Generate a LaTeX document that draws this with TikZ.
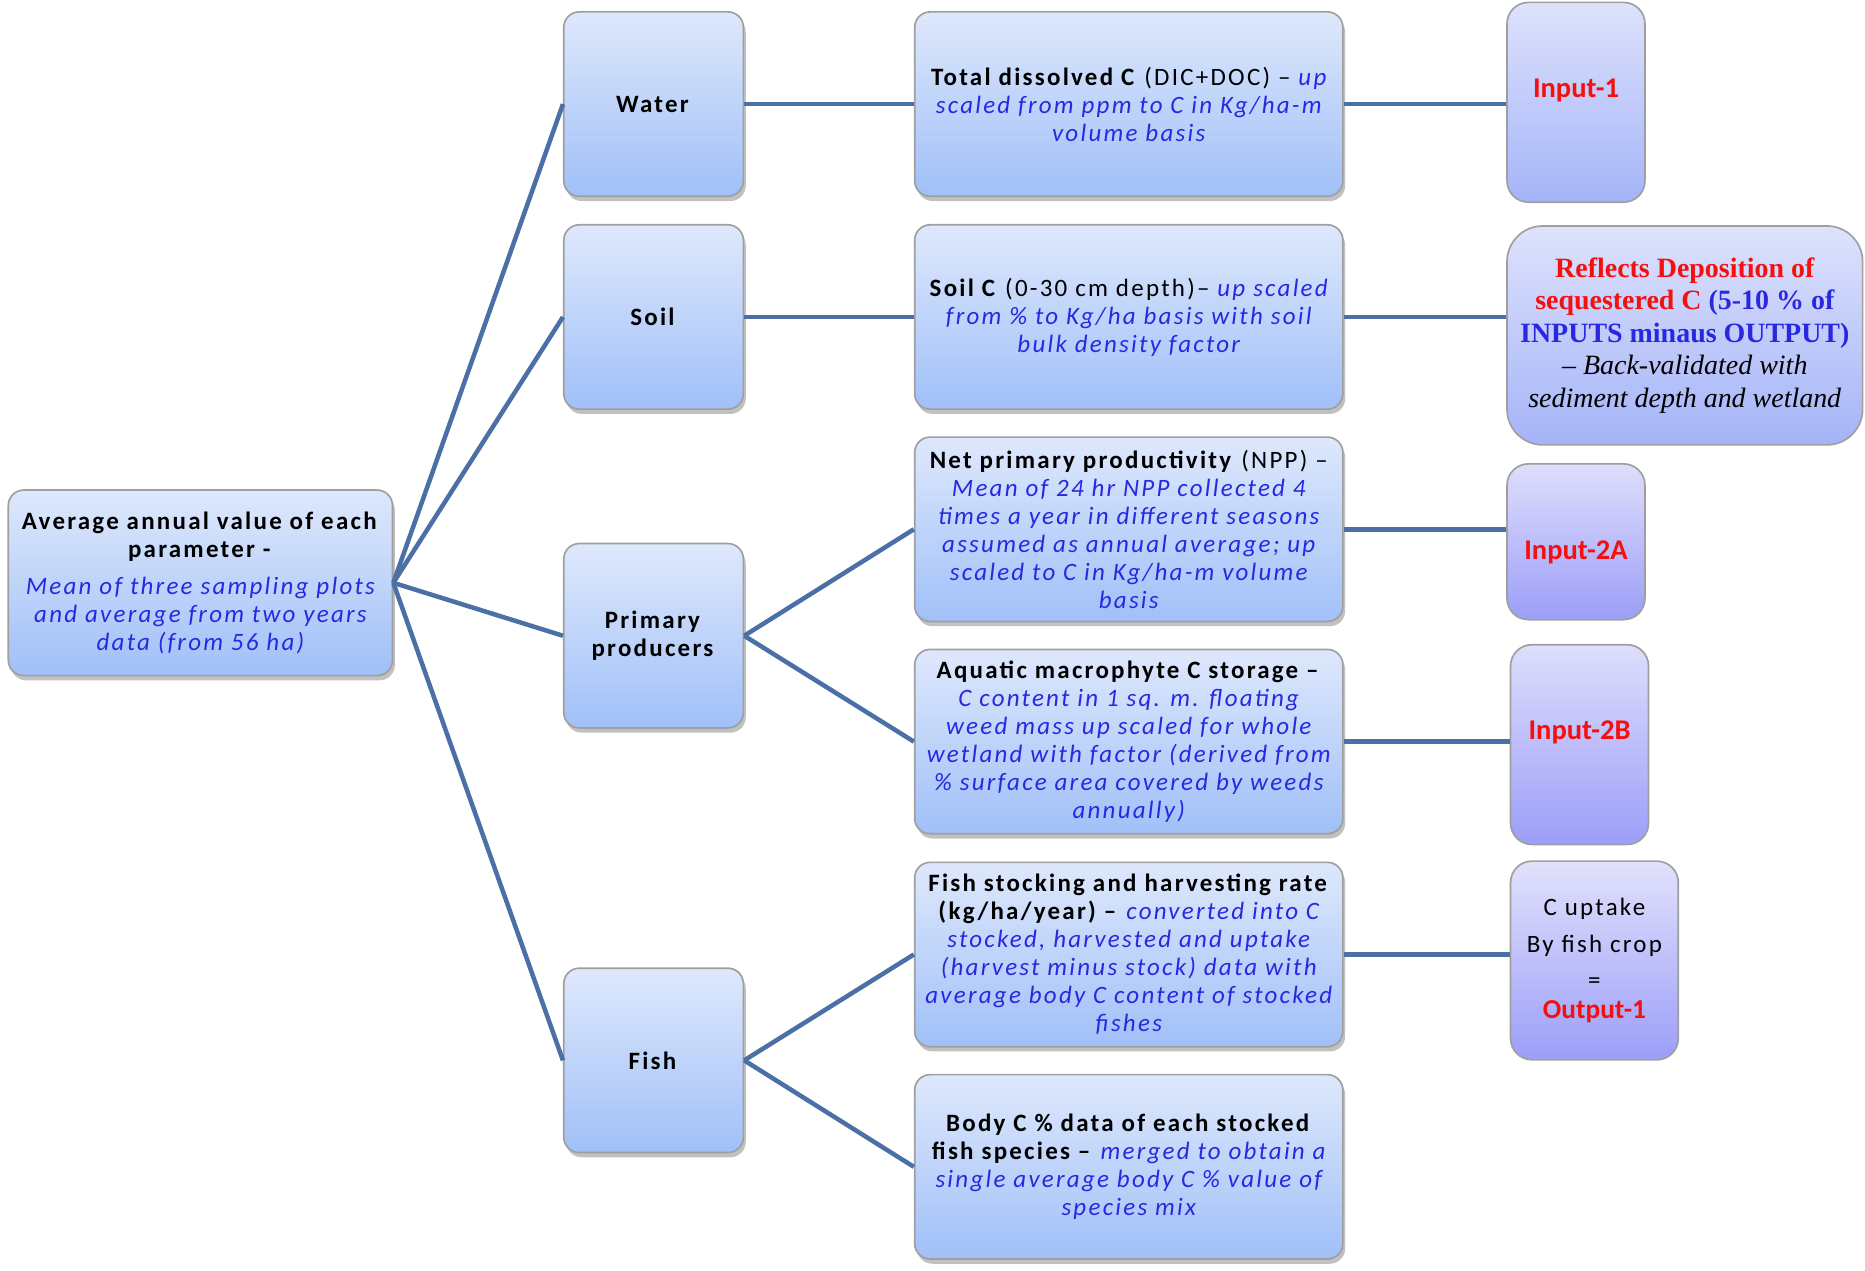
\documentclass[tikz,border=0pt]{standalone}
\usepackage{fontspec}
\setmainfont{Carlito}[LetterSpace=9]
\newfontfamily\tnr{Liberation Serif}
\newfontfamily\redfont{Carlito}
\usetikzlibrary{shadows}
\definecolor{txtblue}{RGB}{40,40,225}
\definecolor{txtred}{RGB}{245,15,15}
\definecolor{linec}{RGB}{74,112,166}
\definecolor{btop}{RGB}{222,232,252}
\definecolor{bbot}{RGB}{160,192,248}
\definecolor{ptop}{RGB}{222,222,252}
\definecolor{pbot}{RGB}{156,158,248}
\definecolor{qtop}{RGB}{222,226,252}
\definecolor{qbot}{RGB}{164,180,248}
\newcommand\blt[1]{{\color{txtblue}\itshape #1}}
\tikzset{
  bluebox/.style={draw=gray!75, line width=1.4pt, rounded corners=13pt,
    top color=btop, bottom color=bbot, align=center, inner sep=0pt,
    drop shadow={shadow xshift=2pt, shadow yshift=-4pt, opacity=0.35, fill=black!70},
    font=\fontsize{21}{23.5}\selectfont},
  purpbox/.style={draw=gray!75, line width=1.4pt, rounded corners=18pt,
    top color=ptop, bottom color=pbot, align=center, inner sep=0pt,
    font=\fontsize{21}{31}\selectfont},
  link/.style={draw=linec, line width=3.8pt},
  redlab/.style={font=\redfont\fontsize{24}{27}\selectfont\bfseries, text=txtred}
}
\begin{document}
\begin{tikzpicture}[x=1pt,y=-1pt]
\useasboundingbox (0,0) rectangle (1568,1068);
% left column
\node[bluebox, minimum width=323pt, minimum height=156pt] (main) at (168.5,490)
 {\textbf{Average annual value of each}\\ \textbf{parameter -}\\[8pt]
  \blt{Mean of three sampling plots}\\ \blt{and average from two years}\\ \blt{data (from 56 ha)}};
\node[bluebox, minimum width=151pt, minimum height=155pt] (water) at (549.5,87.5) {\textbf{Water}};
\node[bluebox, minimum width=151pt, minimum height=155pt] (soil) at (549.5,266.5) {\textbf{Soil}};
\node[bluebox, minimum width=151pt, minimum height=155pt] (prim) at (549.5,534.5) {\textbf{Primary}\\ \textbf{producers}};
\node[bluebox, minimum width=151pt, minimum height=155pt] (fish) at (549.5,891.5) {\textbf{Fish}};
% middle column
\node[bluebox, minimum width=360pt, minimum height=155pt] (tdc) at (949,87.5)
 {\textbf{Total dissolved  C} (DIC+DOC) -- \blt{up}\\ \blt{scaled from ppm to C in Kg/ha-m}\\ \blt{volume basis}};
\node[bluebox, minimum width=360pt, minimum height=155pt] (soilc) at (949,266.5)
 {\textbf{Soil C} (0-30 cm depth)-- \blt{up scaled}\\ \blt{from \% to Kg/ha basis with soil}\\ \blt{bulk density factor}};
\node[bluebox, minimum width=360pt, minimum height=155pt] (npp) at (949,445)
 {\textbf{Net primary productivity} (NPP) --\\ \blt{Mean of 24 hr NPP collected  4}\\ \blt{times a year in different seasons}\\
  \blt{assumed as annual average; up}\\ \blt{scaled to C in Kg/ha-m  volume}\\ \blt{basis}};
\node[bluebox, minimum width=360pt, minimum height=155pt] (aqua) at (949,623.5)
 {\textbf{Aquatic macrophyte C storage --}\\ \blt{C content in 1 sq. m. floating}\\ \blt{weed mass up scaled for whole}\\
  \blt{wetland with  factor (derived from}\\ \blt{\% surface area covered by weeds}\\ \blt{annually)}};
\node[bluebox, minimum width=360pt, minimum height=155pt] (fstock) at (949,802.5)
 {\textbf{Fish stocking and harvesting rate}\\ \textbf{(kg/ha/year) --} \blt{converted into C}\\ \blt{stocked, harvested and uptake}\\
  \blt{(harvest minus stock) data with}\\ \blt{average body C content of stocked}\\ \blt{fishes}};
\node[bluebox, minimum width=360pt, minimum height=155pt] (bodyc) at (949,981)
 {\textbf{Body C \% data of each stocked}\\ \textbf{fish species --} \blt{merged to obtain a}\\ \blt{single average body C \% value of}\\ \blt{species mix}};
% right column
\node[purpbox, top color=qtop, bottom color=qbot, minimum width=116pt, minimum height=168pt] (in1) at (1325,86) {};
\node[redlab] (in1t) at (1325,76) {Input-1};
\node[purpbox, top color=qtop, bottom color=qbot, minimum width=299pt, minimum height=184pt, rounded corners=30pt,
      font=\tnr\fontsize{23.5}{27.3}\selectfont] (refl) at (1416.5,282)
 {\textbf{\color{txtred}Reflects Deposition of}\\ \textbf{\color{txtred}sequestered C \color{txtblue}(5-10 \% of}\\
  \textbf{\color{txtblue}INPUTS minaus OUTPUT)}\\ \textit{– Back-validated with}\\ \textit{sediment depth and wetland}};
\node[purpbox, minimum width=116pt, minimum height=131pt] (in2a) at (1325,455.5) {};
\node[redlab] (in2at) at (1325,464) {Input-2A};
\node[purpbox, minimum width=116pt, minimum height=168pt] (in2b) at (1328,626) {};
\node[redlab] (in2bt) at (1328,616) {Input-2B};
\node[purpbox, minimum width=141pt, minimum height=167pt, top color=ptop!90!white, bottom color=pbot] (cup) at (1340.5,807.5)
 {C uptake\\ By fish crop\\[-1pt] =\\[-6pt] {\redfont\fontsize{23}{27}\selectfont\bfseries\color{txtred}Output-1}};
% connectors
\draw[link] (main.east) -- (water.west);
\draw[link] (main.east) -- (soil.west);
\draw[link] (main.east) -- (prim.west);
\draw[link] (main.east) -- (fish.west);
\draw[link] (water.east) -- (tdc.west);
\draw[link] (soil.east) -- (soilc.west);
\draw[link] (prim.east) -- (npp.west);
\draw[link] (prim.east) -- (aqua.west);
\draw[link] (fish.east) -- (fstock.west);
\draw[link] (fish.east) -- (bodyc.west);
\draw[link] (tdc.east) -- (tdc.east -| in1.west);
\draw[link] (soilc.east) -- (soilc.east -| refl.west);
\draw[link] (npp.east) -- (npp.east -| in2a.west);
\draw[link] (aqua.east) -- (aqua.east -| in2b.west);
\draw[link] (fstock.east) -- (fstock.east -| cup.west);
\end{tikzpicture}
\end{document}
